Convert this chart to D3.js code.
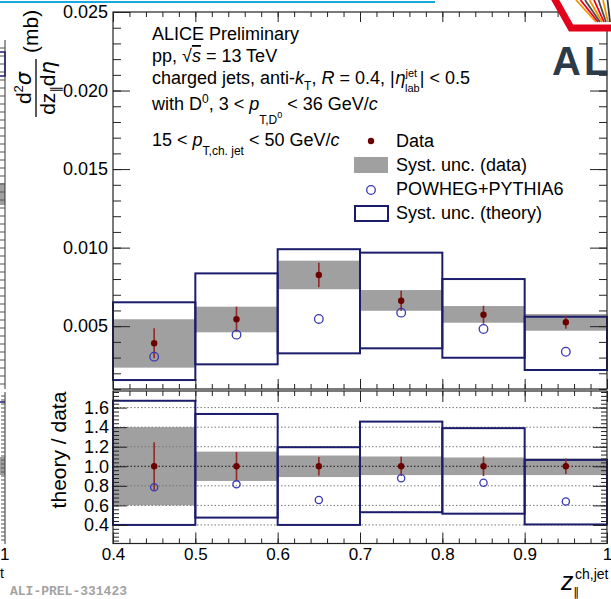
<!DOCTYPE html>
<html lang="en">
<head>
<meta charset="UTF-8">
<title>D0-tagged jet momentum fraction</title>
<script src="https://d3js.org/d3.v7.min.js"></script>
<style>
  body { margin: 0; background: #fff; }
  svg { display: block; font-family: "Liberation Sans", Arial, "DejaVu Sans", sans-serif; }
</style>
</head>
<body>
<div id="chart"></div>
<script>
// z bins
const binEdges = [0.4, 0.5, 0.6, 0.7, 0.8, 0.9, 1.0];

// upper panel: d2sigma/dz deta (mb)
const dataVal      = [0.00391, 0.00544, 0.00826, 0.00662, 0.00573, 0.00525];
const dataStat     = [0.00095, 0.00080, 0.00078, 0.00064, 0.00057, 0.00041];
const dataSystLo   = [0.00236, 0.00461, 0.00735, 0.00598, 0.00522, 0.00471];
const dataSystHi   = [0.00544, 0.00624, 0.00917, 0.00730, 0.00628, 0.00577];
const theoryVal    = [0.00306, 0.00446, 0.00546, 0.00586, 0.00482, 0.00337];
const theorySystLo = [0.00157, 0.00257, 0.00327, 0.00359, 0.00299, 0.00221];
const theorySystHi = [0.00652, 0.00836, 0.00990, 0.00968, 0.00800, 0.00560];

// lower panel: theory / data
const ratioStat     = [0.245, 0.147, 0.095, 0.097, 0.100, 0.080];
const ratioSystLo   = [0.60, 0.85, 0.89, 0.91, 0.91, 0.91];
const ratioSystHi   = [1.40, 1.15, 1.11, 1.10, 1.09, 1.08];
const ratioTheory   = [0.785, 0.815, 0.655, 0.877, 0.832, 0.640];
const ratioTheoryLo = [0.40, 0.475, 0.40, 0.53, 0.515, 0.405];
const ratioTheoryHi = [1.67, 1.535, 1.195, 1.457, 1.39, 1.065];

// tick labels
const xMajor = [0.4, 0.5, 0.6, 0.7, 0.8, 0.9, 1.0];
const yTopMajor = [0.005, 0.010, 0.015, 0.020, 0.025];
const yBotMajor = [0.4, 0.6, 0.8, 1.0, 1.2, 1.4, 1.6];

const W = 611, H = 599;
const L = 113, R = 607;
const topY0 = 12, topY1 = 389, botY0 = 391, botY1 = 543.5;

const col = {
  data: "#6b0000",
  err: "#8e2a2a",
  band: "#a0a0a0",
  box: "#1c1c6c",
  mc: "#3838b4",
  axis: "#222"
};

const svg = d3.select("#chart").append("svg")
  .attr("width", W).attr("height", H);

const x = d3.scaleLinear().domain([0.4, 1.0]).range([L, R]);
const yTop = d3.scaleLinear().domain([0.001, 0.025]).range([topY1, topY0]);
const yBot = d3.scaleLinear().domain([0.21, 1.77]).range([botY1, botY0]);

const bins = dataVal.map((v, i) => ({
  lo: binEdges[i], hi: binEdges[i + 1], mid: (binEdges[i] + binEdges[i + 1]) / 2, i
}));

// minor tick positions
const xMinor = d3.range(0, 31).map(i => 0.4 + i * 0.02);
const yTopMinor = d3.range(1, 26).map(i => i * 0.001);
const yBotMinor = d3.range(0, 40).map(i => 0.24 + i * 0.04).filter(v => v < 1.77);

function ticks(axisFn, scale, values, size, transform) {
  svg.append("g").attr("transform", transform)
    .call(axisFn(scale).tickValues(values).tickSize(-size).tickFormat(""))
    .call(g => g.select(".domain").remove())
    .selectAll("line").attr("stroke", col.axis).attr("stroke-width", 1);
}

// ---- left neighbour fragment (cut off in the screenshot)
const frag = svg.append("g");
frag.append("rect").attr("x", 0).attr("y", 183).attr("width", 5).attr("height", 22).attr("fill", "#a0a0a0");
frag.append("rect").attr("x", 0).attr("y", 457).attr("width", 5).attr("height", 18).attr("fill", "#a0a0a0");
frag.append("line").attr("x1", 5).attr("x2", 5).attr("y1", 40).attr("y2", 389).attr("stroke", "#333");
frag.append("line").attr("x1", 5).attr("x2", 5).attr("y1", 392).attr("y2", 544).attr("stroke", "#333");
frag.selectAll(".ft").data(d3.range(48, 389, 8)).join("line")
  .attr("x1", 0).attr("x2", 5).attr("y1", d => d).attr("y2", d => d).attr("stroke", "#555");
frag.selectAll(".fb").data(d3.range(396, 544, 4)).join("line")
  .attr("x1", 1).attr("x2", 5).attr("y1", d => d).attr("y2", d => d).attr("stroke", "#555");
frag.append("path").attr("d", "M0,52H5V76H0").attr("fill", "none").attr("stroke", col.box).attr("stroke-width", 1.5);
frag.append("path").attr("d", "M0,402H5").attr("fill", "none").attr("stroke", col.box).attr("stroke-width", 1.5);
frag.append("text").attr("x", 0).attr("y", 560).attr("font-size", 17).text("1");
frag.append("text").attr("x", 0).attr("y", 578).attr("font-size", 14).text("t");

// top cyan rule
svg.append("rect").attr("x", 0).attr("y", 1).attr("width", 435).attr("height", 2).attr("fill", "#1aa8e0");

// ================= upper panel =================
const up = svg.append("g");

up.selectAll(".band").data(bins).join("rect")
  .attr("x", d => x(d.lo)).attr("width", d => x(d.hi) - x(d.lo))
  .attr("y", d => yTop(dataSystHi[d.i])).attr("height", d => yTop(dataSystLo[d.i]) - yTop(dataSystHi[d.i]))
  .attr("fill", col.band);

up.selectAll(".tbox").data(bins).join("rect")
  .attr("x", d => x(d.lo)).attr("width", d => x(d.hi) - x(d.lo))
  .attr("y", d => yTop(theorySystHi[d.i])).attr("height", d => yTop(theorySystLo[d.i]) - yTop(theorySystHi[d.i]))
  .attr("fill", "none").attr("stroke", col.box).attr("stroke-width", 2);

up.selectAll(".err").data(bins).join("line")
  .attr("x1", d => x(d.mid)).attr("x2", d => x(d.mid))
  .attr("y1", d => yTop(dataVal[d.i] + dataStat[d.i])).attr("y2", d => yTop(dataVal[d.i] - dataStat[d.i]))
  .attr("stroke", col.err).attr("stroke-width", 1.6);

up.selectAll(".mc").data(bins).join("circle")
  .attr("cx", d => x(d.mid)).attr("cy", d => yTop(theoryVal[d.i])).attr("r", 4.3)
  .attr("fill", "none").attr("stroke", col.mc).attr("stroke-width", 1.3);

up.selectAll(".pt").data(bins).join("circle")
  .attr("cx", d => x(d.mid)).attr("cy", d => yTop(dataVal[d.i])).attr("r", 3.2)
  .attr("fill", col.data);

// frame + ticks
svg.append("rect").attr("x", L).attr("y", topY0).attr("width", R - L).attr("height", topY1 - topY0)
  .attr("fill", "none").attr("stroke", col.axis).attr("stroke-width", 1.2);
ticks(d3.axisLeft, yTop, yTopMinor, 8, `translate(${L},0)`);
ticks(d3.axisLeft, yTop, yTopMajor, 17, `translate(${L},0)`);
ticks(d3.axisRight, yTop, yTopMinor, 8, `translate(${R},0)`);
ticks(d3.axisRight, yTop, yTopMajor, 17, `translate(${R},0)`);
ticks(d3.axisBottom, x, xMinor, 5, `translate(0,${topY1})`);
ticks(d3.axisBottom, x, xMajor, 10, `translate(0,${topY1})`);
ticks(d3.axisTop, x, xMinor, 5, `translate(0,${topY0})`);
ticks(d3.axisTop, x, xMajor, 10, `translate(0,${topY0})`);

svg.append("g").attr("transform", `translate(${L},0)`)
  .call(d3.axisLeft(yTop).tickValues(yTopMajor).tickFormat(d3.format(".3f")).tickSize(0).tickPadding(5))
  .call(g => g.select(".domain").remove())
  .selectAll("text").attr("font-size", 18).attr("fill", "#000")
  .attr("font-family", "Liberation Sans, Arial, sans-serif");

// ================= lower panel =================
const lo = svg.append("g");

lo.selectAll(".band").data(bins).join("rect")
  .attr("x", d => x(d.lo)).attr("width", d => x(d.hi) - x(d.lo))
  .attr("y", d => yBot(ratioSystHi[d.i])).attr("height", d => yBot(ratioSystLo[d.i]) - yBot(ratioSystHi[d.i]))
  .attr("fill", col.band);

lo.selectAll(".grid").data(yBotMajor).join("line")
  .attr("x1", L).attr("x2", R).attr("y1", d => yBot(d)).attr("y2", d => yBot(d))
  .attr("stroke", d => d === 1.0 ? "#111" : "#777").attr("stroke-width", 1)
  .attr("stroke-dasharray", "1.5,2");

lo.selectAll(".tbox").data(bins).join("rect")
  .attr("x", d => x(d.lo)).attr("width", d => x(d.hi) - x(d.lo))
  .attr("y", d => yBot(ratioTheoryHi[d.i])).attr("height", d => yBot(ratioTheoryLo[d.i]) - yBot(ratioTheoryHi[d.i]))
  .attr("fill", "none").attr("stroke", col.box).attr("stroke-width", 2);

lo.selectAll(".err").data(bins).join("line")
  .attr("x1", d => x(d.mid)).attr("x2", d => x(d.mid))
  .attr("y1", d => yBot(1 + ratioStat[d.i])).attr("y2", d => yBot(1 - ratioStat[d.i]))
  .attr("stroke", col.err).attr("stroke-width", 1.6);

lo.selectAll(".mc").data(bins).join("circle")
  .attr("cx", d => x(d.mid)).attr("cy", d => yBot(ratioTheory[d.i])).attr("r", 3.6)
  .attr("fill", "none").attr("stroke", col.mc).attr("stroke-width", 1.3);

lo.selectAll(".pt").data(bins).join("circle")
  .attr("cx", d => x(d.mid)).attr("cy", yBot(1)).attr("r", 3.2)
  .attr("fill", col.data);

svg.append("rect").attr("x", L).attr("y", botY0).attr("width", R - L).attr("height", botY1 - botY0)
  .attr("fill", "none").attr("stroke", col.axis).attr("stroke-width", 1.2);
ticks(d3.axisLeft, yBot, yBotMinor, 6, `translate(${L},0)`);
ticks(d3.axisLeft, yBot, yBotMajor, 14, `translate(${L},0)`);
ticks(d3.axisRight, yBot, yBotMinor, 6, `translate(${R},0)`);
ticks(d3.axisRight, yBot, yBotMajor, 14, `translate(${R},0)`);
ticks(d3.axisBottom, x, xMinor, 5, `translate(0,${botY1})`);
ticks(d3.axisBottom, x, xMajor, 11, `translate(0,${botY1})`);
ticks(d3.axisTop, x, xMinor, 5, `translate(0,${botY0})`);
ticks(d3.axisTop, x, xMajor, 11, `translate(0,${botY0})`);

svg.append("g").attr("transform", `translate(${L},0)`)
  .call(d3.axisLeft(yBot).tickValues(yBotMajor).tickFormat(d3.format(".1f")).tickSize(0).tickPadding(4))
  .call(g => g.select(".domain").remove())
  .selectAll("text").attr("font-size", 18).attr("fill", "#000")
  .attr("font-family", "Liberation Sans, Arial, sans-serif");

svg.append("g").attr("transform", `translate(0,${botY1})`)
  .call(d3.axisBottom(x).tickValues(xMajor).tickFormat(d => d === 1 ? "1" : d3.format(".1f")(d)).tickSize(0).tickPadding(4))
  .call(g => g.select(".domain").remove())
  .selectAll("text").attr("font-size", 17).attr("fill", "#000")
  .attr("font-family", "Liberation Sans, Arial, sans-serif");

// ================= titles =================
const yt = svg.append("g").attr("transform", "rotate(-90)");
const num = yt.append("text").attr("x", -88).attr("y", 31).attr("text-anchor", "middle").attr("font-size", 21);
num.append("tspan").text("d");
num.append("tspan").attr("font-size", 13).attr("dy", -8).text("2");
num.append("tspan").attr("dy", 8).attr("font-family", "DejaVu Sans, sans-serif").attr("font-style", "italic").text("σ");
yt.append("line").attr("x1", -117).attr("x2", -59).attr("y1", 36).attr("y2", 36).attr("stroke", "#000").attr("stroke-width", 1.3);
const den = yt.append("text").attr("x", -88).attr("y", 55).attr("text-anchor", "middle").attr("font-size", 21);
den.append("tspan").text("dz");
den.append("tspan").attr("font-size", 13).attr("dy", 5).attr("font-family", "DejaVu Sans, sans-serif").text("∥");
den.append("tspan").attr("dy", -5).text("d");
den.append("tspan").attr("font-style", "italic").attr("font-family", "DejaVu Sans, sans-serif").text("η");
yt.append("text").attr("x", -53).attr("y", 38).attr("font-size", 21).text("(mb)");

yt.append("text").attr("x", -450).attr("y", 66).attr("text-anchor", "middle").attr("font-size", 21).text("theory / data");

svg.append("text").attr("x", 561).attr("y", 590).attr("font-size", 25).attr("font-style", "italic").text("z");
svg.append("text").attr("x", 573).attr("y", 596).attr("font-size", 12).attr("font-family", "DejaVu Sans, sans-serif").text("∥");
svg.append("text").attr("x", 575).attr("y", 579).attr("font-size", 14).text("ch,jet");

svg.append("text").attr("x", 10).attr("y", 595).attr("font-size", 13).attr("font-weight", "bold")
  .attr("font-family", "Liberation Mono, DejaVu Sans Mono, monospace").attr("fill", "#a3a3a3")
  .text("ALI-PREL-331423");

// ================= header text =================
const tx = 152, fs = 18;
svg.append("text").attr("x", tx).attr("y", 40).attr("font-size", fs).text("ALICE Preliminary");

const l2 = svg.append("text").attr("x", tx).attr("y", 62).attr("font-size", fs);
l2.append("tspan").text("pp, √");
l2.append("tspan").attr("font-style", "italic").style("text-decoration", "overline").text("s");
l2.append("tspan").text(" = 13 TeV");

const l3 = svg.append("text").attr("x", tx).attr("y", 84).attr("font-size", fs);
l3.append("tspan").text("charged jets, anti-");
l3.append("tspan").attr("font-style", "italic").text("k");
l3.append("tspan").attr("font-size", 12).attr("dy", 6).text("T");
l3.append("tspan").attr("dy", -6).text(", ");
l3.append("tspan").attr("font-style", "italic").text("R");
l3.append("tspan").text(" = 0.4, |");
l3.append("tspan").attr("font-style", "italic").attr("font-family", "DejaVu Sans, sans-serif").attr("font-size", 17).text("η");
l3.append("tspan").attr("font-size", 11).attr("dy", -7).text("jet");
l3.append("tspan").attr("font-size", 11).attr("dx", -12).attr("dy", 15).text("lab");
l3.append("tspan").attr("dy", -8).text("| < 0.5");

const l4 = svg.append("text").attr("x", tx).attr("y", 110).attr("font-size", fs);
l4.append("tspan").text("with D");
l4.append("tspan").attr("font-size", 12).attr("dy", -7).text("0");
l4.append("tspan").attr("dy", 7).text(", 3 < ");
l4.append("tspan").attr("font-style", "italic").text("p");
l4.append("tspan").attr("font-size", 12).attr("dy", 14).text("T,D");
l4.append("tspan").attr("font-size", 9).attr("dy", -6).text("0");
l4.append("tspan").attr("dy", -8).text(" < 36 GeV/");
l4.append("tspan").attr("font-style", "italic").text("c");

const l5 = svg.append("text").attr("x", tx).attr("y", 146).attr("font-size", fs);
l5.append("tspan").text("15 < ");
l5.append("tspan").attr("font-style", "italic").text("p");
l5.append("tspan").attr("font-size", 12).attr("dy", 9).text("T,ch. jet");
l5.append("tspan").attr("dy", -9).text(" < 50 GeV/");
l5.append("tspan").attr("font-style", "italic").text("c");

// ================= legend =================
const lg = svg.append("g");
lg.append("circle").attr("cx", 371).attr("cy", 141).attr("r", 3.2).attr("fill", col.data);
lg.append("rect").attr("x", 354).attr("y", 157).attr("width", 34).attr("height", 16).attr("fill", col.band);
lg.append("circle").attr("cx", 371).attr("cy", 190).attr("r", 4.3).attr("fill", "none").attr("stroke", col.mc).attr("stroke-width", 1.3);
lg.append("rect").attr("x", 355).attr("y", 206).attr("width", 33).attr("height", 15).attr("fill", "none").attr("stroke", col.box).attr("stroke-width", 2);
const legText = ["Data", "Syst. unc. (data)", "POWHEG+PYTHIA6", "Syst. unc. (theory)"];
const legY = [147, 171, 195, 219];
lg.selectAll(".lt").data(legText).join("text")
  .attr("x", 396).attr("y", (d, i) => legY[i]).attr("font-size", fs).text(d => d);

// ================= ALICE logo corner =================
const logo = svg.append("g");
logo.append("path").attr("d", "M552,-4L570,28H615V-4Z").attr("fill", "#fff");
const rayColors = ["#f39200", "#e3001b", "#4a4a4a", "#f39200", "#e3001b", "#4a4a4a", "#f39200", "#2d3b48"];
logo.selectAll(".ray").data(rayColors).join("line")
  .attr("x1", (d, i) => 576 + i * 4.5).attr("y1", 0)
  .attr("x2", (d, i) => 596 + i * 2).attr("y2", 22)
  .attr("stroke", d => d).attr("stroke-width", 1.8);
logo.append("path").attr("d", "M553,-4L571,28H615").attr("fill", "none").attr("stroke", "#e3001b").attr("stroke-width", 7);
logo.append("text").attr("x", 552).attr("y", 75).attr("font-size", 40).attr("font-weight", "bold")
  .attr("letter-spacing", 3).attr("fill", "#2d3b48").text("ALI");
</script>
</body>
</html>
